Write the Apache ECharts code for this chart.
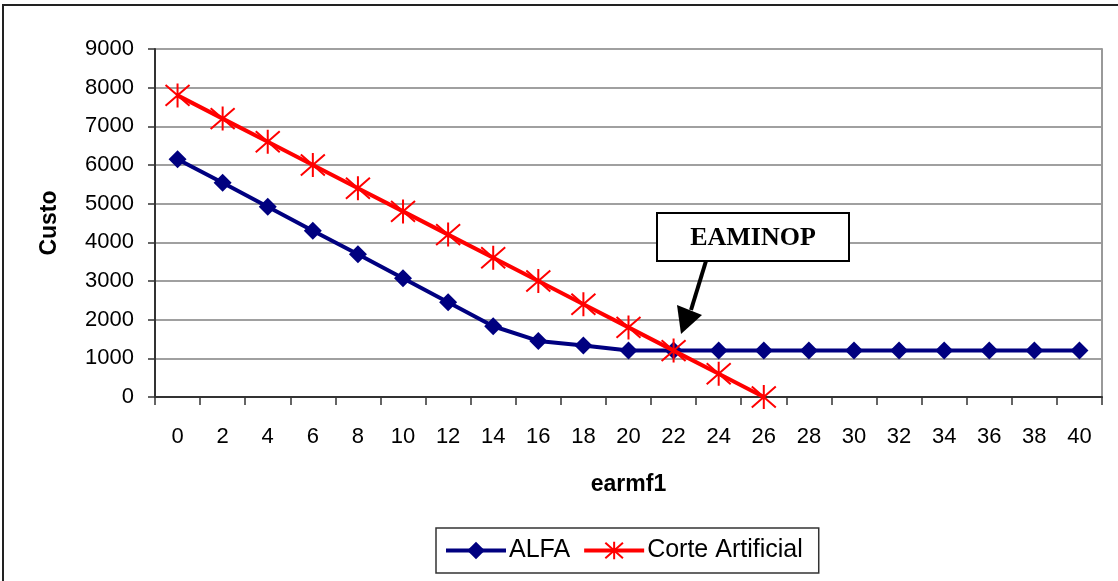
<!DOCTYPE html>
<html>
<head>
<meta charset="utf-8">
<script src="https://cdn.jsdelivr.net/npm/echarts@6/dist/echarts.min.js"></script>
<style>
  html, body { margin: 0; padding: 0; background: #fff; }
  #chart { width: 1118px; height: 581px; }
</style>
</head>
<body>
<div id="chart"></div>
<script>
// earmf1 categories
const categories = ['0','2','4','6','8','10','12','14','16','18','20','22','24','26','28','30','32','34','36','38','40'];
// custo per series
const alfa  = [6150, 5540, 4920, 4300, 3690, 3070, 2450, 1830, 1450, 1330, 1200, 1200, 1200, 1200, 1200, 1200, 1200, 1200, 1200, 1200, 1200];
const corte = [7800, 7200, 6600, 6000, 5400, 4800, 4200, 3600, 3000, 2400, 1800, 1200, 600, 0];
const yTicks = { min: 0, max: 9000, interval: 1000 };

const font = '"Liberation Sans", Arial, sans-serif';
// asterisk marker: X plus vertical stroke
const star = 'path://M-1,-1L1,1M-1,1L1,-1M0,-1.15L0,1.15';

const chart = echarts.init(document.getElementById('chart'));
chart.setOption({
  animation: false,
  textStyle: { fontFamily: font },
  grid: { left: 155, right: 16, top: 49, bottom: 184, containLabel: false },
  xAxis: {
    type: 'category',
    data: categories,
    boundaryGap: true,
    name: 'earmf1',
    nameLocation: 'middle',
    nameGap: 76,
    nameTextStyle: { fontSize: 23, fontWeight: 'bold', color: '#000', fontFamily: font },
    axisLine: { lineStyle: { color: '#333', width: 2 } },
    axisTick: { show: true, length: 8, lineStyle: { color: '#333', width: 1.5 } },
    axisLabel: { fontSize: 22, color: '#000', margin: 29, fontFamily: font },
    splitLine: { show: false }
  },
  yAxis: [{
    type: 'value',
    min: yTicks.min, max: yTicks.max, interval: yTicks.interval,
    name: 'Custo',
    nameLocation: 'middle',
    nameGap: 94,
    nameRotate: 90,
    nameTextStyle: { fontSize: 23, fontWeight: 'bold', color: '#000', fontFamily: font },
    axisLine: { show: true, lineStyle: { color: '#333', width: 2 } },
    axisTick: { show: true, length: 7, lineStyle: { color: '#333', width: 1.5 } },
    axisLabel: { fontSize: 22, color: '#000', margin: 21, fontFamily: font, formatter: v => String(v) },
    splitLine: { lineStyle: { color: '#808080', width: 1.5 } }
  }, {
    type: 'value',
    position: 'right',
    min: yTicks.min, max: yTicks.max, interval: yTicks.interval,
    axisLine: { show: true, lineStyle: { color: '#999', width: 2 } },
    axisTick: { show: false },
    axisLabel: { show: false },
    splitLine: { show: false }
  }],
  legend: {
    left: 436, top: 528,
    padding: [10, 16, 10, 8],
    itemGap: 12,
    itemWidth: 60, itemHeight: 22,
    borderColor: '#333', borderWidth: 1.5,
    lineStyle: { width: 4 },
    textStyle: { fontSize: 25, color: '#000', fontFamily: font, padding: [0, 0, 0, -2] },
    data: ['ALFA', 'Corte Artificial']
  },
  series: [{
    name: 'ALFA',
    type: 'line',
    data: alfa,
    symbol: 'diamond',
    symbolSize: 18,
    lineStyle: { color: '#000080', width: 4 },
    itemStyle: { color: '#000080' },
    z: 3
  }, {
    name: 'Corte Artificial',
    type: 'line',
    data: corte,
    symbol: star,
    symbolSize: 24,
    lineStyle: { color: '#ff0000', width: 4 },
    itemStyle: { color: '#ff0000', borderColor: '#ff0000', borderWidth: 2 },
    z: 4
  }],
  graphic: [
    // outer chart frame
    { type: 'rect', shape: { x: 3, y: 5, width: 1140, height: 620 }, style: { fill: null, stroke: '#222', lineWidth: 2 }, silent: true },
    // EAMINOP callout
    { type: 'rect', shape: { x: 657, y: 213, width: 192, height: 48 }, style: { fill: '#fff', stroke: '#000', lineWidth: 2 }, z: 10 },
    { type: 'text', x: 753, y: 238, style: { text: 'EAMINOP', font: 'bold 26px "Liberation Serif", "Times New Roman", serif', fill: '#000', align: 'center', verticalAlign: 'middle' }, z: 11 },
    { type: 'line', shape: { x1: 706, y1: 261, x2: 691, y2: 310 }, style: { stroke: '#000', lineWidth: 4 }, z: 10 },
    { type: 'polygon', shape: { points: [[677, 305], [702, 315], [681, 334]] }, style: { fill: '#000' }, z: 10 }
  ]
});
</script>
</body>
</html>
